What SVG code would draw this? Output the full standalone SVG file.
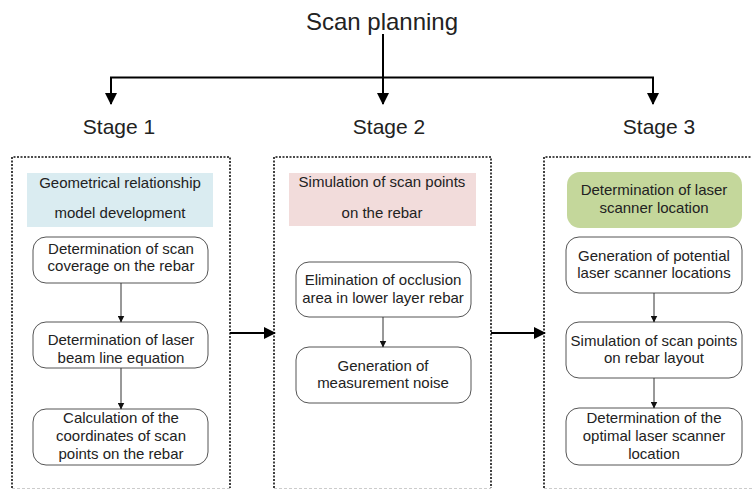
<svg xmlns="http://www.w3.org/2000/svg" width="752" height="490" viewBox="0 0 752 490">
<defs>
<marker id="ah" markerWidth="8" markerHeight="8" refX="7" refY="4" orient="auto" markerUnits="userSpaceOnUse"><path d="M0,0 L8,4 L0,8 Z" fill="#000"/></marker>
<marker id="ahs" markerWidth="7" markerHeight="7" refX="6.5" refY="3.5" orient="auto" markerUnits="userSpaceOnUse"><path d="M0,0 L7,3.5 L0,7 Z" fill="#111"/></marker>
<marker id="ahb" markerWidth="12" markerHeight="12" refX="11" refY="6" orient="auto" markerUnits="userSpaceOnUse"><path d="M0,0 L12,6 L0,12 Z" fill="#000"/></marker>
</defs>
<style>
text{font-family:"Liberation Sans",Arial,sans-serif;fill:#222;text-anchor:middle}
.title{font-size:24px}
.stage{font-size:21px}
.t{font-size:15px}
.node{fill:#fff;stroke:#555;stroke-width:1}
.frame{fill:none;stroke:#111;stroke-width:1.6;stroke-dasharray:2 1.5}
.fbot{stroke:#ccc;stroke-width:1;stroke-dasharray:3 2}
.main{stroke:#000;stroke-width:2;fill:none}
.sub{stroke:#333;stroke-width:1;fill:none}
</style>
<rect width="752" height="490" fill="#fff"/>
<g id="title"><text class="title" x="382" y="30">Scan planning</text></g>
<g id="stage1-label"><text class="stage" x="119" y="134">Stage 1</text></g>
<g id="stage2-label"><text class="stage" x="389" y="134">Stage 2</text></g>
<g id="stage3-label"><text class="stage" x="659" y="134">Stage 3</text></g>

<g id="stage1">
<path class="frame" d="M12,488 V157 H230 V488"/>
<line class="fbot" x1="12" y1="488.5" x2="230" y2="488.5"/>
<g id="s1-header"><rect x="27" y="173" width="186" height="54" fill="#daecf1"/>
<text class="t" x="120" y="188">Geometrical relationship</text>
<text class="t" x="120" y="218">model development</text></g>
<g id="s1-n1"><rect class="node" x="33" y="237" width="175" height="46" rx="13"/>
<text class="t" x="121" y="254">Determination of scan</text>
<text class="t" x="121" y="271">coverage on the rebar</text></g>
<g id="s1-n2"><rect class="node" x="33" y="322" width="175" height="46" rx="13"/>
<text class="t" x="121" y="345">Determination of laser</text>
<text class="t" x="121" y="363">beam line equation</text></g>
<g id="s1-n3"><rect class="node" x="33" y="409" width="175" height="56" rx="13"/>
<text class="t" x="121" y="423">Calculation of the</text>
<text class="t" x="121" y="441">coordinates of scan</text>
<text class="t" x="121" y="459">points on the rebar</text></g>
</g>

<g id="stage2">
<path class="frame" d="M274,488 V157 H491 V488"/>
<line class="fbot" x1="274" y1="488.5" x2="491" y2="488.5"/>
<g id="s2-header"><rect x="289" y="173" width="187" height="53" fill="#f2dcdb"/>
<text class="t" x="382" y="187">Simulation of scan points</text>
<text class="t" x="382" y="218">on the rebar</text></g>
<g id="s2-n1"><rect class="node" x="296" y="262" width="175" height="55" rx="13"/>
<text class="t" x="383" y="285">Elimination of occlusion</text>
<text class="t" x="383" y="303">area in lower layer rebar</text></g>
<g id="s2-n2"><rect class="node" x="296" y="347" width="175" height="56" rx="13"/>
<text class="t" x="383" y="371">Generation of</text>
<text class="t" x="383" y="388">measurement noise</text></g>
</g>

<g id="stage3">
<path class="frame" d="M544,488 V157 H760"/>
<line class="fbot" x1="544" y1="488.5" x2="752" y2="488.5"/>
<g id="s3-header"><rect x="567" y="172" width="175" height="56" rx="13" fill="#c4d79b"/>
<text class="t" x="654" y="195">Determination of laser</text>
<text class="t" x="654" y="213">scanner location</text></g>
<g id="s3-n1"><rect class="node" x="566" y="237" width="176" height="56" rx="13"/>
<text class="t" x="654" y="261">Generation of potential</text>
<text class="t" x="654" y="278">laser scanner locations</text></g>
<g id="s3-n2"><rect class="node" x="566" y="322" width="176" height="56" rx="13"/>
<text class="t" x="654" y="346">Simulation of scan points</text>
<text class="t" x="654" y="363">on rebar layout</text></g>
<g id="s3-n3"><rect class="node" x="566" y="408" width="176" height="57" rx="13"/>
<text class="t" x="654" y="423">Determination of the</text>
<text class="t" x="654" y="441">optimal laser scanner</text>
<text class="t" x="654" y="459">location</text></g>
</g>

<g id="connectors">
<line class="main" x1="383" y1="34" x2="383" y2="104" marker-end="url(#ahb)"/>
<path class="main" d="M111,104 V77.5 H653 V104"/>
<line class="main" x1="111" y1="90" x2="111" y2="104" marker-end="url(#ahb)"/>
<line class="main" x1="653" y1="90" x2="653" y2="104" marker-end="url(#ahb)"/>
<line class="main" x1="230" y1="333" x2="275" y2="333" marker-end="url(#ahb)"/>
<line class="main" x1="491" y1="333" x2="545" y2="333" marker-end="url(#ahb)"/>
<line class="sub" x1="121" y1="283" x2="121" y2="322" marker-end="url(#ahs)"/>
<line class="sub" x1="121" y1="368" x2="121" y2="409" marker-end="url(#ahs)"/>
<line class="sub" x1="383" y1="317" x2="383" y2="347" marker-end="url(#ahs)"/>
<line class="sub" x1="654" y1="293" x2="654" y2="322" marker-end="url(#ahs)"/>
<line class="sub" x1="654" y1="378" x2="654" y2="408" marker-end="url(#ahs)"/>
</g>
</svg>
